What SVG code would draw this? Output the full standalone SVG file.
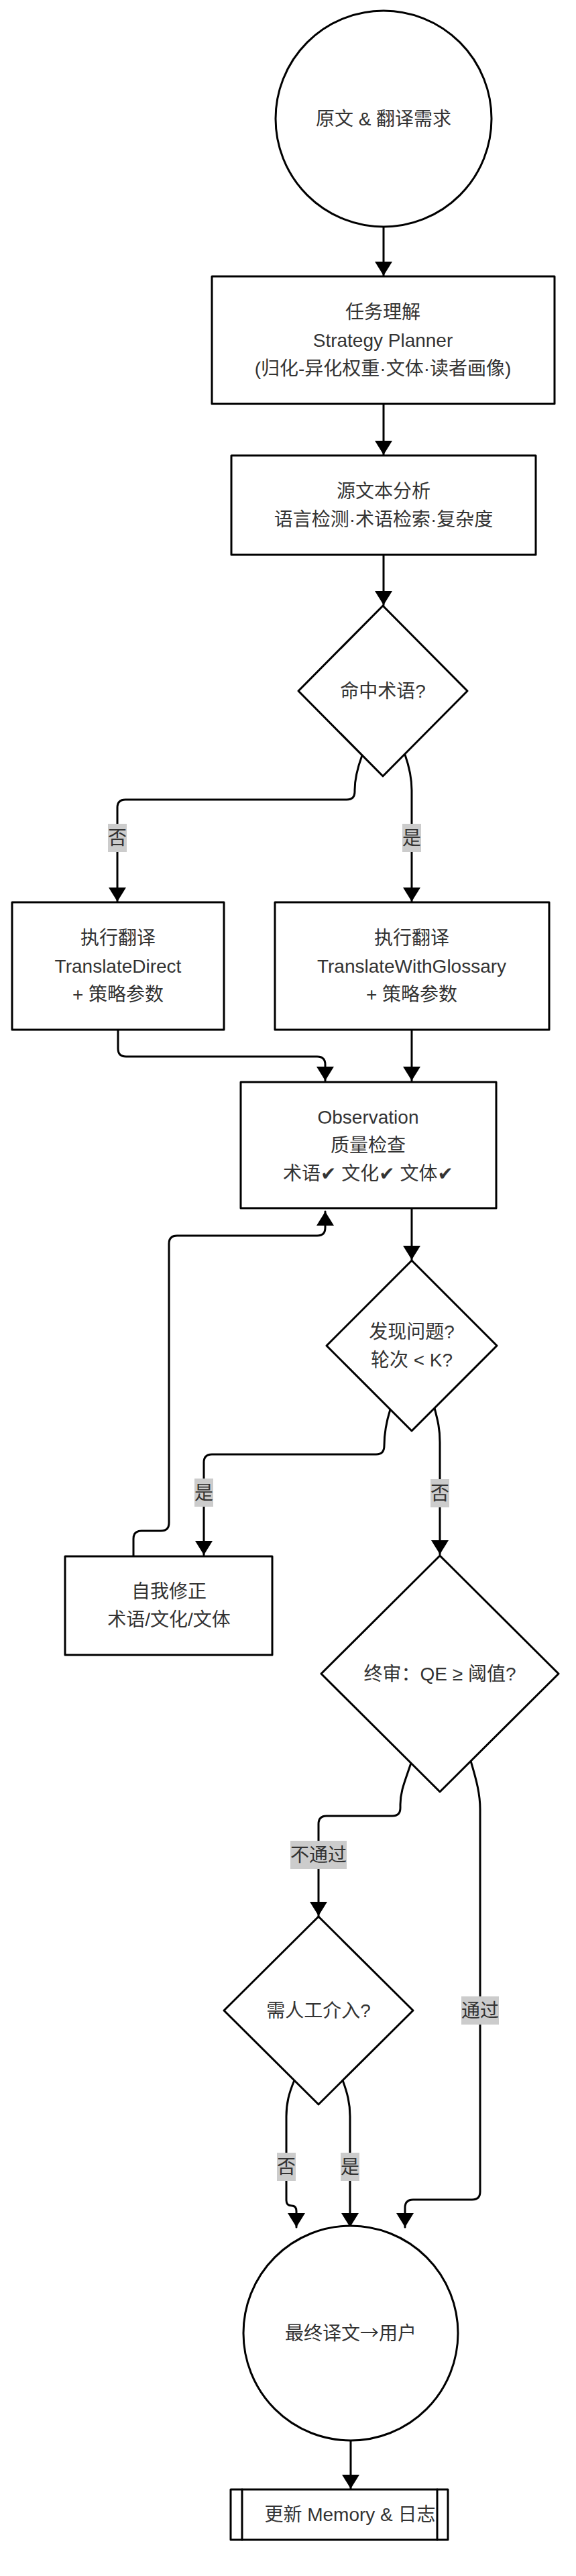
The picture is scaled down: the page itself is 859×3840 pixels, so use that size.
<svg xmlns="http://www.w3.org/2000/svg" width="859" height="3840" viewBox="0 0 859 3840">
<style>
.n{fill:#fff;stroke:#000;stroke-width:3;stroke-linejoin:round}
.e{fill:none;stroke:#000;stroke-width:3;stroke-linecap:round;stroke-linejoin:round}
.t{font-family:"Liberation Sans","Noto Sans CJK SC","DejaVu Sans",sans-serif;font-size:28px;fill:#333;text-anchor:middle}
.cjk{font-family:"Noto Sans CJK SC",sans-serif}
.lb{fill:#cccccc}
</style>
<defs>
<marker id="ah" markerUnits="userSpaceOnUse" markerWidth="22" markerHeight="26" refX="21" refY="13" orient="auto">
<path d="M0,0 L21,13 L0,26 z" fill="#000"/>
</marker>
</defs>
<rect x="0" y="0" width="859" height="3840" fill="#fff"/>

<g id="edges">
<path class="e" marker-end="url(#ah)" d="M572 338 L572 411"/>
<path class="e" marker-end="url(#ah)" d="M572 603 L572 678"/>
<path class="e" marker-end="url(#ah)" d="M572 828 L572 902"/>
<path class="e" marker-end="url(#ah)" d="M540 1126 C533 1145 529 1160 529 1178 L529 1180 Q529 1192 517 1192 L187 1192 Q175 1192 175 1204 L175 1344"/>
<path class="e" marker-end="url(#ah)" d="M604 1125 C611 1145 614 1160 614 1178 L614 1344"/>
<path class="e" marker-end="url(#ah)" d="M176 1536 L176 1563 Q176 1575 188 1575 L473 1575 Q485 1575 485 1587 L485 1611"/>
<path class="e" marker-end="url(#ah)" d="M614 1536 L614 1611"/>
<path class="e" marker-end="url(#ah)" d="M614 1802 L614 1878"/>
<path class="e" marker-end="url(#ah)" d="M582 2101 C576 2120 573 2135 573 2155 Q573 2168 561 2168 L316 2168 Q304 2168 304 2180 L304 2318"/>
<path class="e" marker-end="url(#ah)" d="M648 2099 C653 2118 656 2130 656 2150 L656 2317"/>
<path class="e" marker-end="url(#ah)" d="M199 2320 L199 2294 Q199 2282 211 2282 L240 2282 Q252 2282 252 2270 L252 1854 Q252 1842 264 1842 L473 1842 Q485 1842 485 1830 L485 1806"/>
<path class="e" marker-end="url(#ah)" d="M613 2628 C604 2655 597 2670 597 2690 L597 2695 Q597 2707 585 2707 L487 2707 Q475 2707 475 2719 L475 2856"/>
<path class="e" marker-end="url(#ah)" d="M702 2625 C711 2655 716 2675 716 2697 L716 3267 Q716 3279 704 3279 L616 3279 Q604 3279 604 3291 L604 3320"/>
<path class="e" marker-end="url(#ah)" d="M439 3101 C431 3120 427 3135 427 3155 L427 3280 Q427 3288 435 3288 Q442 3288 442 3296 L442 3320"/>
<path class="e" marker-end="url(#ah)" d="M511 3101 C518 3120 522 3135 522 3155 L522 3320"/>
<path class="e" marker-end="url(#ah)" d="M523 3639 L523 3710"/>

<g id="edge-labels">
<rect class="lb" x="161" y="1228" width="28" height="42"/><text class="t" x="175" y="1259">否</text>
<rect class="lb" x="600" y="1228" width="28" height="42"/><text class="t" x="614" y="1259">是</text>
<rect class="lb" x="290" y="2204" width="28" height="42"/><text class="t" x="304" y="2235">是</text>
<rect class="lb" x="642" y="2205" width="28" height="42"/><text class="t" x="656" y="2236">否</text>
<rect class="lb" x="433" y="2744" width="84" height="42"/><text class="t" x="475" y="2775">不通过</text>
<rect class="lb" x="688" y="2976" width="56" height="42"/><text class="t" x="716" y="3007">通过</text>
<rect class="lb" x="413" y="3209" width="28" height="42"/><text class="t" x="427" y="3240">否</text>
<rect class="lb" x="508" y="3209" width="28" height="42"/><text class="t" x="522" y="3240">是</text>
</g>
</g>

<g id="start">
<circle class="n" cx="572" cy="177" r="161"/>
<text class="t" x="572" y="187">原文 &amp; 翻译需求</text>
</g>

<g id="planner">
<rect class="n" x="316" y="412" width="511" height="190"/>
<text class="t" x="571" y="475">任务理解</text>
<text class="t" x="571" y="517">Strategy Planner</text>
<text class="t" x="571" y="559">(归化-异化权重·文体·读者画像)</text>
</g>

<g id="analysis">
<rect class="n" x="345" y="679" width="454" height="148"/>
<text class="t" x="572" y="742">源文本分析</text>
<text class="t" x="572" y="784">语言检测·术语检索·复杂度</text>
</g>

<g id="term-hit">
<polygon class="n" points="571,903 697,1030 571,1157 445,1030"/>
<text class="t" x="571" y="1040">命中术语?</text>
</g>

<g id="translate-direct">
<rect class="n" x="18" y="1345" width="316" height="190"/>
<text class="t" x="176" y="1408">执行翻译</text>
<text class="t" x="176" y="1450">TranslateDirect</text>
<text class="t" x="176" y="1492">+ 策略参数</text>
</g>

<g id="translate-glossary">
<rect class="n" x="410" y="1345" width="409" height="190"/>
<text class="t" x="614" y="1408">执行翻译</text>
<text class="t" x="614" y="1450">TranslateWithGlossary</text>
<text class="t" x="614" y="1492">+ 策略参数</text>
</g>

<g id="observation">
<rect class="n" x="359" y="1613" width="381" height="188"/>
<text class="t" x="549" y="1675">Observation</text>
<text class="t" x="549" y="1717">质量检查</text>
<text class="t" x="549" y="1759">术语✔ 文化✔ 文体✔</text>
</g>

<g id="issue-check">
<polygon class="n" points="614,1879 741,2006 614,2133 487,2006"/>
<text class="t" x="614" y="1995">发现问题?</text>
<text class="t" x="614" y="2037">轮次 &lt; K?</text>
</g>

<g id="self-correct">
<rect class="n" x="97" y="2320" width="309" height="147"/>
<text class="t" x="252" y="2382">自我修正</text>
<text class="t" x="252" y="2424">术语/文化/文体</text>
</g>

<g id="final-review">
<polygon class="n" points="656,2319 833,2495 656,2671 479,2495"/>
<text class="t" x="656" y="2505">终审：QE ≥ 阈值?</text>
</g>

<g id="human">
<polygon class="n" points="475,2857 616,2997 475,3137 334,2997"/>
<text class="t" x="475" y="3007">需人工介入?</text>
</g>

<g id="final-output">
<circle class="n" cx="523" cy="3478" r="160"/>
<text class="t" x="523" y="3488">最终译文<tspan class="cjk">→</tspan>用户</text>
</g>

<g id="update-memory">
<rect class="n" x="344" y="3711" width="324" height="75"/>
<line class="e" x1="361" y1="3711" x2="361" y2="3786"/>
<line class="e" x1="652" y1="3711" x2="652" y2="3786"/>
<text class="t" x="522" y="3758">更新 Memory &amp; 日志</text>
</g>
</svg>
